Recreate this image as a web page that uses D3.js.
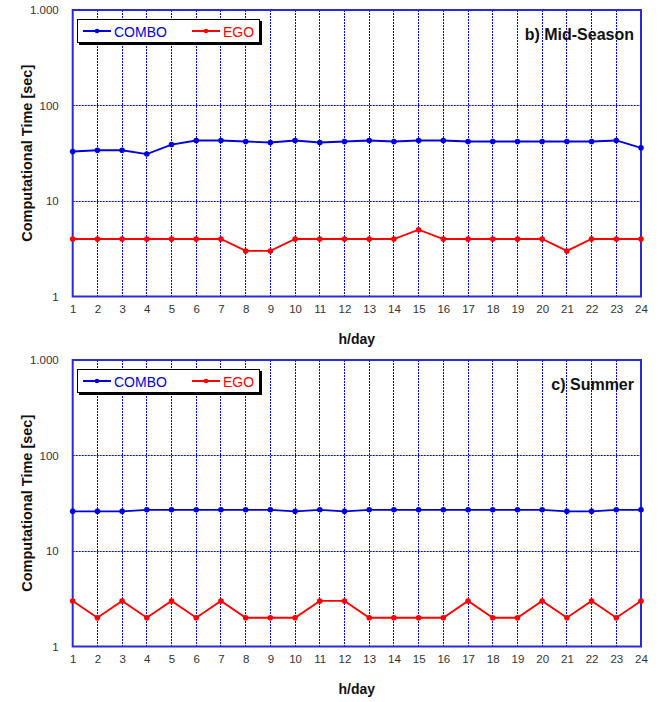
<!DOCTYPE html>
<html><head><meta charset="utf-8">
<script src="https://cdn.jsdelivr.net/npm/d3@7"></script>
<style>body{margin:0;background:#fff;}svg{display:block;}</style>
</head><body>
<svg id="c" width="658" height="702"></svg>
<script>
const hours = d3.range(1, 25);
const midCombo = [33,34,34,31,39,43,43,42,41,43,41,42,43,42,43,43,42,42,42,42,42,42,43,36];
const midEgo   = [4,4,4,4,4,4,4,3,3,4,4,4,4,4,5,4,4,4,4,4,3,4,4,4];
const sumCombo = [26,26,26,27,27,27,27,27,27,26,27,26,27,27,27,27,27,27,27,27,26,26,27,27];
const sumEgo   = [3,2,3,2,3,2,3,2,2,2,3,3,2,2,2,2,3,2,2,3,2,3,2,3];
const yTicks = [1, 10, 100, 1000];
const yTickLabels = ["1", "10", "100", "1.000"];
const seriesNames = ["COMBO", "EGO"];
const seriesColors = ["#0000dd", "#ff0000"];
const panels = [
  {title: "b) Mid-Season", combo: midCombo, ego: midEgo, offset: 0},
  {title: "c) Summer", combo: sumCombo, ego: sumEgo, offset: 350}
];

const svg = d3.select("#c");
const font = "Arial, 'Liberation Sans', sans-serif";
const L = 72.7, R = 641, T = 10, B = 296.5;
const x = d3.scaleLinear().domain([1, 24]).range([L, R]);
const y = d3.scaleLog().domain([1, 1000]).range([B, T]);
const snap = v => Math.round(v - 0.5) + 0.5;

panels.forEach(p => {
  const g = svg.append("g").attr("transform", `translate(0,${p.offset})`);
  // grid
  g.selectAll("line.vg").data(hours.slice(1, -1)).join("line").attr("class", "vg")
    .attr("x1", d => snap(x(d))).attr("x2", d => snap(x(d))).attr("y1", T).attr("y2", B)
    .attr("stroke", "#0000ff").attr("stroke-width", 1).attr("stroke-dasharray", "2,1");
  g.selectAll("line.hg").data([10, 100]).join("line").attr("class", "hg")
    .attr("x1", L).attr("x2", R).attr("y1", d => snap(y(d))).attr("y2", d => snap(y(d)))
    .attr("stroke", "#0000ff").attr("stroke-width", 1).attr("stroke-dasharray", "2,1");
  // frame
  g.append("rect").attr("x", L).attr("y", T).attr("width", R - L).attr("height", B - T)
    .attr("fill", "none").attr("stroke", "#2a2ae0").attr("stroke-width", 2);
  // axes tick labels
  const yAxis = d3.axisLeft(y).tickValues(yTicks).tickFormat((d, i) => yTickLabels[i]).tickSize(0).tickPadding(14);
  const ya = g.append("g").attr("transform", `translate(${L},0)`).call(yAxis);
  ya.select(".domain").remove();
  ya.selectAll("text").attr("font-family", font).attr("font-size", 11.5).attr("fill", "#333");
  const xAxis = d3.axisBottom(x).tickValues(hours).tickFormat(d3.format("d")).tickSize(0).tickPadding(8);
  const xa = g.append("g").attr("transform", `translate(0,${B})`).call(xAxis);
  xa.select(".domain").remove();
  xa.selectAll("text").attr("font-family", font).attr("font-size", 11.5).attr("fill", "#333");
  // axis titles
  g.append("text").attr("x", (L + R) / 2).attr("y", 344).attr("text-anchor", "middle")
    .attr("font-family", font).attr("font-size", 14).attr("font-weight", "bold").attr("fill", "#111").text("h/day");
  g.append("text").attr("transform", `translate(32,${(T + B) / 2}) rotate(-90)`).attr("text-anchor", "middle")
    .attr("font-family", font).attr("font-size", 14.5).attr("font-weight", "bold").attr("fill", "#111").text("Computational Time [sec]");
  // title
  g.append("text").attr("x", 634).attr("y", 40).attr("text-anchor", "end")
    .attr("font-family", font).attr("font-size", 16).attr("font-weight", "bold").attr("fill", "#111").text(p.title);
  // series
  [p.combo, p.ego].forEach((vals, si) => {
    const line = d3.line().x((d, i) => x(hours[i])).y(d => y(d));
    g.append("path").datum(vals).attr("d", line).attr("fill", "none")
      .attr("stroke", seriesColors[si]).attr("stroke-width", 1.8);
    g.selectAll("circle.pt" + si).data(vals).join("circle").attr("class", "pt" + si)
      .attr("cx", (d, i) => x(hours[i])).attr("cy", d => y(d)).attr("r", 2.8)
      .attr("fill", seriesColors[si]);
  });
  // legend
  const lg = g.append("g");
  lg.append("rect").attr("x", 79).attr("y", 21).attr("width", 183).attr("height", 24).attr("fill", "#000");
  lg.append("rect").attr("x", 77.5).attr("y", 19.5).attr("width", 182).attr("height", 23)
    .attr("fill", "#fff").attr("stroke", "#000").attr("stroke-width", 1);
  const lx = [83, 192];
  seriesNames.forEach((n, i) => {
    lg.append("line").attr("x1", lx[i]).attr("x2", lx[i] + 28).attr("y1", 31).attr("y2", 31)
      .attr("stroke", seriesColors[i]).attr("stroke-width", 2);
    lg.append("circle").attr("cx", lx[i] + 14).attr("cy", 31).attr("r", 2.3).attr("fill", seriesColors[i]);
    lg.append("text").attr("x", lx[i] + 31).attr("y", 36.5).attr("font-family", font).attr("font-size", 14)
      .attr("fill", seriesColors[i]).text(n);
  });
});
</script>
</body></html>
